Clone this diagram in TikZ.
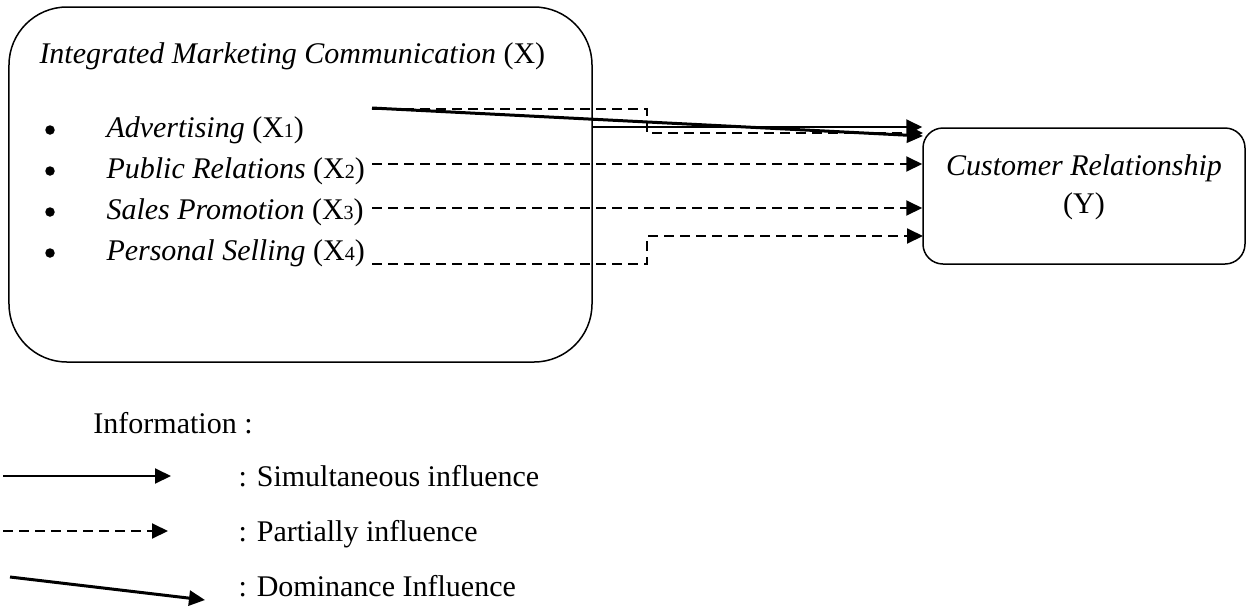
\documentclass[tikz,border=0pt]{standalone}
\usepackage{fontspec}
\setmainfont{Liberation Serif}
\usepackage{tikz}
\usetikzlibrary{shapes,arrows,arrows.meta}
\usetikzlibrary{positioning}
\tikzstyle{bigbox} = [rectangle, draw, line width=0.6pt, rounded corners=23.2pt,
    minimum width=233.2pt, minimum height=142pt, inner sep=0pt]
\tikzstyle{smallbox} = [rectangle, draw, line width=0.6pt, rounded corners=8pt,
    minimum width=128.8pt, minimum height=54.4pt, inner sep=0pt]
\tikzstyle{txt} = [anchor=base west, inner sep=0pt]
\tikzstyle{dot} = [circle, fill, inner sep=0pt, minimum size=3.8pt]
\tikzstyle{line} = [draw, line width=0.8pt, -{Triangle[length=6.4pt,width=6pt]}]
\tikzstyle{dline} = [line, dash pattern=on 4pt off 2.4pt]
\tikzstyle{domline} = [draw, line width=1.2pt, -{Triangle[length=6.4pt,width=6pt]}]
\newcommand{\sub}[1]{{\fontsize{8}{8}\selectfont #1}}

\begin{document}
\begin{tikzpicture}[x=0.4pt,y=-0.4pt,every node/.style={font=\fontsize{12}{14}\selectfont}]
    \useasboundingbox (0,0) rectangle (1249,608);
    % Place nodes
    \node [bigbox] (imc) at (300.5,184.5) {};
    \node [smallbox] (cr) at (1084,196) {};

    \node [txt] (imctitle) at (39,63) {\textit{Integrated Marketing Communication} (X)};
    \node [dot] (b1) at (50,130) {};
    \node [dot] (b2) at (50,171) {};
    \node [dot] (b3) at (50,212) {};
    \node [dot] (b4) at (50,253) {};
    \node [txt] (adv) at (106,137) {\textit{Advertising} (X\sub{1})};
    \node [txt] (pr) at (106,178) {\textit{Public Relations} (X\sub{2})};
    \node [txt] (sp) at (106,219) {\textit{Sales Promotion} (X\sub{3})};
    \node [txt] (ps) at (106,260) {\textit{Personal Selling} (X\sub{4})};

    \node [anchor=base, inner sep=0pt] (crtext) at (1084,175) {\textit{Customer Relationship}};
    \node [anchor=base, inner sep=0pt] (crvar) at (1084,213) {(Y)};

    \node [txt] (info) at (93,433) {Information :};
    \node [txt] (simtext) at (238,486) {: Simultaneous influence};
    \node [txt] (partext) at (238,541) {: Partially influence};
    \node [txt] (domtext) at (238,596) {: Dominance Influence};

    \coordinate (s0) at (592,127);
    \coordinate (s1) at (372,109);
    \coordinate (e1) at (923,133);
    \coordinate (sd) at (372,108);
    \coordinate (ed) at (923,136);
    \coordinate (s2) at (372,164);
    \coordinate (s3) at (372,208);
    \coordinate (s4) at (372,264);
    \coordinate (e4) at (923,236);

    \coordinate (l1a) at (3,476);
    \coordinate (l1b) at (171,476);
    \coordinate (l2a) at (3,531);
    \coordinate (l2b) at (168,531);
    \coordinate (l3a) at (10,577);
    \coordinate (l3b) at (205,600);

    % Draw edges
    \path [dline] (s1) --++ (275,0) |- (e1);
    \path [line] (s0) -- (s0 -| cr.west);
    \path [domline] (sd) -- (ed);
    \path [dline] (s2) -- (s2 -| cr.west);
    \path [dline] (s3) -- (s3 -| cr.west);
    \path [dline] (s4) --++ (275,0) |- (e4);

    % Legend
    \path [line] (l1a) -- (l1b);
    \path [dline] (l2a) -- (l2b);
    \path [domline] (l3a) -- (l3b);
\end{tikzpicture}
\end{document}
